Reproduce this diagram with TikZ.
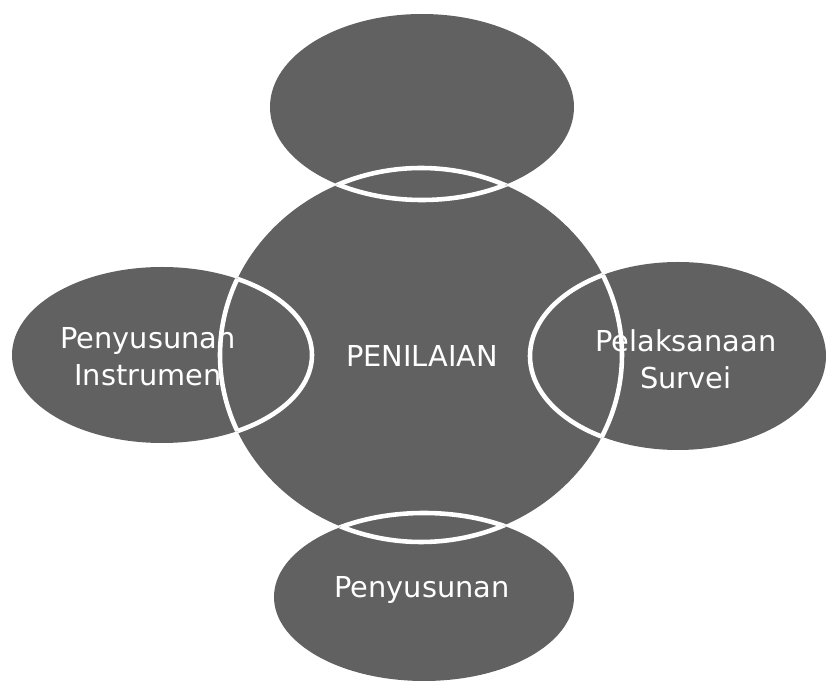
\documentclass[tikz,border=0pt]{standalone}
\usepackage{fontspec}
\setmainfont{DejaVu Sans}
\usepackage{tikz}
\usetikzlibrary{calc}

\tikzset{
    blob/.style={fill=black!62},
    rim/.style={draw=white, line width=1.3pt},
    lbl/.style={text=white, font=\fontsize{8.2}{10.5}\selectfont, align=center}
}

\begin{document}
\begin{tikzpicture}[x=0.01cm, y=-0.01cm]
    \useasboundingbox (0,0) rectangle (829,682);

    \coordinate (C) at (421,355);
    \coordinate (T) at (422,107);
    \coordinate (L) at (162,355);
    \coordinate (R) at (678,356);
    \coordinate (B) at (424,597);

    % filled shapes first
    \path[blob] (C) ellipse [x radius=201, y radius=187];
    \path[blob] (T) ellipse [x radius=152, y radius=93];
    \path[blob] (L) ellipse [x radius=150, y radius=88];
    \path[blob] (R) ellipse [x radius=148, y radius=94];
    \path[blob] (B) ellipse [x radius=150, y radius=84];

    % white rims where they overlap
    \begin{scope}
        \clip (C) ellipse [x radius=201, y radius=187];
        \draw[rim] (T) ellipse [x radius=152, y radius=93];
        \draw[rim] (L) ellipse [x radius=150, y radius=88];
        \draw[rim] (R) ellipse [x radius=148, y radius=94];
        \draw[rim] (B) ellipse [x radius=150, y radius=84];
    \end{scope}
    \foreach \p/\rx/\ry in {T/152/93, L/150/88, R/148/94, B/150/84} {
        \begin{scope}
            \clip (\p) ellipse [x radius=\rx, y radius=\ry];
            \draw[rim] (C) ellipse [x radius=201, y radius=187];
        \end{scope}
    }

    \node[lbl] (centre) at (422,356) {PENILAIAN};
    \node[lbl] (instr) at (148,357) {Penyusunan\\Instrumen};
    \node[lbl] (survei) at (686,359) {Pelaksanaan\\Survei};
    \node[lbl] (lapor) at (422,590) {Penyusunan};
\end{tikzpicture}
\end{document}
